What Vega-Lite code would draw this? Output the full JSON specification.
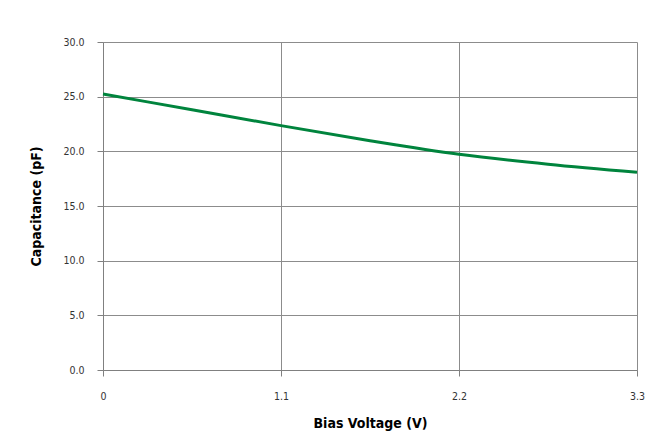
{
  "$schema": "https://vega.github.io/schema/vega-lite/v6.json",
  "width": 534,
  "height": 328,
  "autosize": {"type": "none"},
  "padding": {"left": 103, "top": 42, "right": 12, "bottom": 65},
  "background": "white",
  "data": {"values": [
    {"v": 0, "c": 25.25},
    {"v": 0.55, "c": 23.8},
    {"v": 1.1, "c": 22.35},
    {"v": 1.65, "c": 20.97},
    {"v": 2.2, "c": 19.73},
    {"v": 2.75, "c": 18.82},
    {"v": 3.3, "c": 18.08}
  ]},
  "mark": {"type": "line", "color": "#00843d", "strokeWidth": 3, "interpolate": "monotone"},
  "encoding": {
    "x": {
      "field": "v", "type": "quantitative",
      "scale": {"domain": [0, 3.3], "nice": false, "zero": false},
      "axis": {
        "title": "Bias Voltage (V)",
        "values": [0, 1.1, 2.2, 3.3],
        "format": ".1~f",
        "labelFlush": false,
        "grid": true, "gridColor": "#8c8c8c", "gridWidth": 1,
        "domainColor": "#808080", "tickColor": "#808080", "tickSize": 6,
        "labelPadding": 15, "labelFont": "DejaVu Sans Condensed, Liberation Sans", "labelFontSize": 10.5, "labelColor": "#333333",
        "titleFont": "DejaVu Sans Condensed, Liberation Sans", "titleFontSize": 14, "titleFontWeight": "bold", "titleColor": "#000000",
        "titlePadding": 15
      }
    },
    "y": {
      "field": "c", "type": "quantitative",
      "scale": {"domain": [0, 30], "nice": false},
      "axis": {
        "title": "Capacitance (pF)",
        "values": [0, 5, 10, 15, 20, 25, 30],
        "format": ".1f",
        "grid": true, "gridColor": "#8c8c8c", "gridWidth": 1,
        "domainColor": "#808080", "tickColor": "#808080", "tickSize": 6,
        "labelPadding": 13, "labelFont": "DejaVu Sans Condensed, Liberation Sans", "labelFontSize": 10.5, "labelColor": "#333333",
        "titleFont": "DejaVu Sans Condensed, Liberation Sans", "titleFontSize": 14, "titleFontWeight": "bold", "titleColor": "#000000",
        "titlePadding": 19
      }
    }
  },
  "config": {"view": {"stroke": null}}
}
